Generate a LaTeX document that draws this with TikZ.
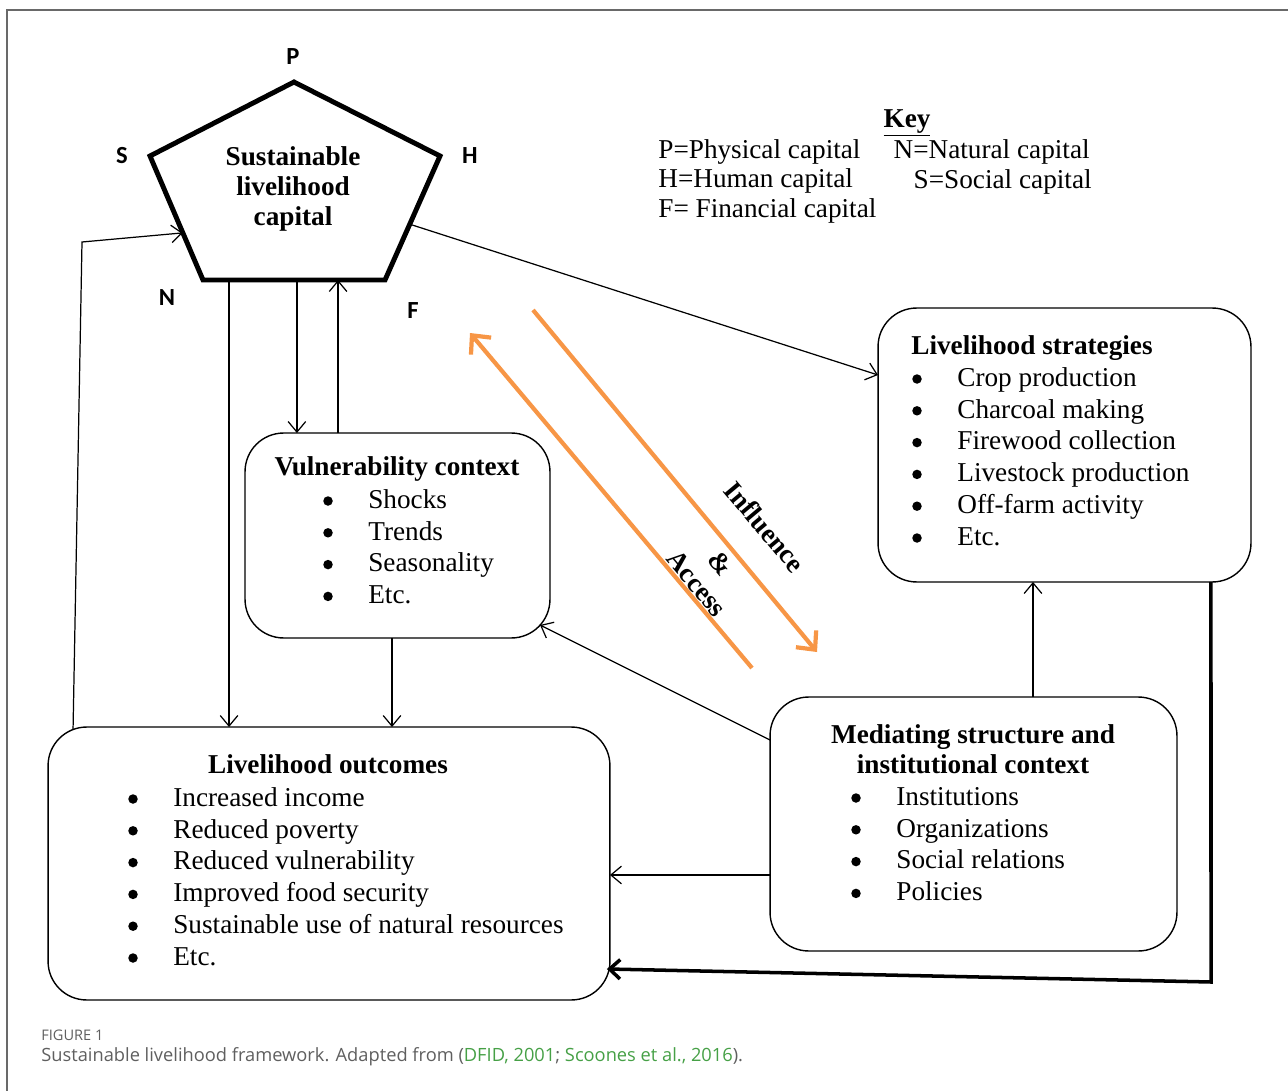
\documentclass[tikz,border=0pt]{standalone}
\usepackage{fontspec}
\setmainfont{Liberation Serif}
\newfontfamily\labelfont{Carlito}
\newfontfamily\capfont{Open Sans}
\usepackage{tikz}
\usetikzlibrary{positioning,arrows.meta,calc}
\usepackage{xcolor}
\definecolor{flowgold}{RGB}{247,150,70}
\definecolor{framegray}{RGB}{105,105,105}
\definecolor{capgray}{RGB}{95,95,95}
\definecolor{refgreen}{RGB}{70,160,70}
\newcommand{\bodysize}{\fontsize{15.5}{17.6}\selectfont}

\begin{document}
\begin{tikzpicture}[x=0.02cm, y=-0.02cm, font=\bodysize,
  box/.style={draw, line width=0.8pt, rounded corners=22pt, inner sep=0pt, outer sep=0pt},
  conn/.style={line width=0.7pt, -{Straight Barb[length=6pt, width=10pt]}},
  heavyconn/.style={line width=2pt, -{Straight Barb[length=6pt, width=11pt]}},
  flow/.style={flowgold, line width=2.4pt, -{Straight Barb[length=8pt, width=15pt]}},
  item/.style={anchor=west, inner sep=0pt, text height=1em, text depth=0.05em},
  dot/.style={circle, fill, inner sep=0pt, minimum size=0.19cm},
  head/.style={inner sep=0pt, font=\bodysize\bfseries, text height=1em, text depth=0.05em},
  capletter/.style={inner sep=0pt, font=\labelfont\bfseries\fontsize{14}{14}\selectfont},
  slant/.style={inner sep=0pt, align=center, font=\bodysize\bfseries, rotate=-50}]
\useasboundingbox (0,0) rectangle (1288,1091);
\def\gap{31.8}

% Frame
\draw[framegray, line width=0.8pt] (7,1091) -- (7,10) -- (1288,10);

% Pentagon of capitals
\coordinate (capP) at (294,82);
\coordinate (capH) at (440,156);
\coordinate (capF) at (385,280);
\coordinate (capN) at (203,280);
\coordinate (capS) at (150,156);
\draw[line width=2.8pt, line join=miter] (capP) -- (capH) -- (capF) -- (capN) -- (capS) -- cycle;
\node[align=center, font=\fontsize{15.5}{17.2}\selectfont\bfseries] (captxt) at (293,189) {Sustainable\\livelihood\\capital};

\foreach \name/\x/\y in {P/293/57, S/122/156, H/470/156, N/167/298, F/413/311} {
  \node[capletter] (lbl\name) at (\x,\y) {\name};
}

% Key
\node[head] (keyhead) at (907,119) {\underline{Key}};
\foreach \txt [count=\i] in {P=Physical capital, H=Human capital, F= Financial capital} {
  \node[item] (keyl\i) at (658,150+29.5*\i-29.5) {\txt};
}
\node[item, anchor=east] (keyr1) at (1090,150) {N=Natural capital};
\node[item, anchor=east] (keyr2) at (1092,180) {S=Social capital};

% Boxes
\node[box, minimum width=7.46cm, minimum height=5.48cm] (ls) at (1064.5,445) {};
\node[box, minimum width=6.1cm, minimum height=4.1cm] (vc) at (397.5,535.5) {};
\node[box, minimum width=11.24cm, minimum height=5.46cm] (lo) at (329,863.5) {};
\node[box, minimum width=8.14cm, minimum height=5.08cm] (ms) at (973.5,824) {};

% Livelihood strategies
\node[head, anchor=west] (lshead) at (911,346) {Livelihood strategies};
\foreach \txt [count=\i] in {Crop production, Charcoal making, Firewood collection, Livestock production, Off-farm activity, Etc.} {
  \node[dot] (lsb\i) at (917,379+\gap*\i-\gap) {};
  \node[item] (ls\i) at (957,378+\gap*\i-\gap) {\txt};
}

% Vulnerability context
\node[head] (vchead) at (397,467) {Vulnerability context};
\foreach \txt [count=\i] in {Shocks, Trends, Seasonality, Etc.} {
  \node[dot] (vcb\i) at (328,501+\gap*\i-\gap) {};
  \node[item] (vc\i) at (368,500+\gap*\i-\gap) {\txt};
}

% Livelihood outcomes
\node[head] (lohead) at (328,765) {Livelihood outcomes};
\foreach \txt [count=\i] in {Increased income, Reduced poverty, Reduced vulnerability, Improved food security, Sustainable use of natural resources, Etc.} {
  \node[dot] (lob\i) at (133,799+\gap*\i-\gap) {};
  \node[item] (lo\i) at (173,798+\gap*\i-\gap) {\txt};
}

% Mediating structure
\node[head] (mshead1) at (973,735) {Mediating structure and};
\node[head] (mshead2) at (973,765) {institutional context};
\foreach \txt [count=\i] in {Institutions, Organizations, Social relations, Policies} {
  \node[dot] (msb\i) at (856,798+\gap*\i-\gap) {};
  \node[item] (ms\i) at (896,797+\gap*\i-\gap) {\txt};
}

% Connectors
\path (capH) -- (capF) coordinate[pos=0.55] (capOut);
\path (capS) -- (capN) coordinate[pos=0.62] (capIn);
\path (capN) -- (capF) coordinate[pos=0.143] (capB1);
\path (capN) -- (capF) coordinate[pos=0.516] (capB2);
\path (capN) -- (capF) coordinate[pos=0.742] (capB3);

\draw[conn] (capOut) -- ([yshift=1.4cm]ls.west);
\draw[conn] (capB1) -- (capB1 |- lo.north);
\draw[conn] (capB2) -- (capB2 |- vc.north);
\draw[conn] (capB3 |- vc.north) -- (capB3);
\draw[conn] ([xshift=-0.11cm]vc.south) coordinate (vcOut) -- (vcOut |- lo.north);
\coordinate (loopTop) at (82,242);
\draw[conn] ([shift={(0.5cm,-0.05cm)}]lo.north west) -- (loopTop) -- (capIn);
\draw[conn] ([xshift=1.19cm]ms.north) coordinate (msUp) -- (msUp |- ls.south);
\draw[conn] ([yshift=1.68cm]ms.west) -- ([shift={(-0.2cm,0.26cm)}]vc.south east);
\draw[conn] ([yshift=-1.02cm]ms.west) coordinate (msOut) -- (msOut -| lo.east);
\coordinate (turnR) at (1211,982);
\draw[heavyconn] ([xshift=2.93cm]ls.south) -- (turnR) -- ([shift={(-0.06cm,-2.11cm)}]lo.east);

% Influence and access
\coordinate (accTail) at (752,668);
\coordinate (accHead) at (470,333);
\coordinate (inflTail) at (533,310);
\coordinate (inflHead) at (817,652);
\draw[flow] (accTail) -- (accHead);
\draw[flow] (inflTail) -- (inflHead);
\node[slant] (inflacc) at (731,555) {Influence\\[15pt]\&\\Access};

% Caption
\node[anchor=west, inner sep=0pt, text=capgray, font=\capfont\fontsize{8.3}{9}\selectfont] (figno) at (41,1035) {FIGURE 1};
\node[anchor=west, inner sep=0pt, text=capgray, font=\capfont\fontsize{10.4}{12}\selectfont] (caption) at (41,1057)
  {Sustainable livelihood framework. Adapted from (\textcolor{refgreen}{DFID, 2001}; \textcolor{refgreen}{Scoones et al., 2016}).};
\end{tikzpicture}
\end{document}
